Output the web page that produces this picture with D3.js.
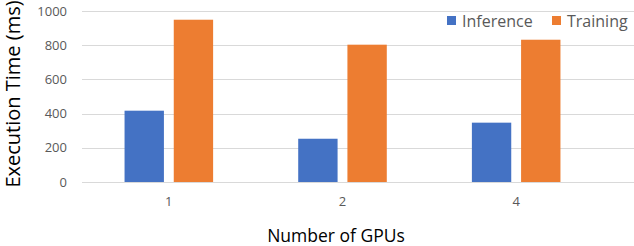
<!DOCTYPE html>
<html>
<head>
<meta charset="utf-8">
<script src="https://cdn.jsdelivr.net/npm/d3@7"></script>
<style>
  body { margin: 0; background: #fff; }
  text { font-family: "Open Sans", sans-serif; fill: #595959; }
</style>
</head>
<body>
<div class="chart"></div>
<script>
// Chart data
var gpus = ["1", "2", "4"];
var seriesNames = ["Inference", "Training"];
var inference = [417, 253, 347];
var training = [949, 803, 832];
var yTicks = [0, 200, 400, 600, 800, 1000];
var colors = ["#4472C4", "#ED7D31"];

var svgWidth = 634;
var svgHeight = 246;
var margin = { top: 11, right: 31, bottom: 64, left: 82 };
var width = svgWidth - margin.left - margin.right;
var height = svgHeight - margin.top - margin.bottom;

var svg = d3.select(".chart")
    .append("svg")
    .attr("width", svgWidth)
    .attr("height", svgHeight);

var chart = svg.append("g")
    .attr("transform", "translate(" + margin.left + "," + margin.top + ")");

var x0 = d3.scaleBand().domain(gpus).range([0, width])
    .paddingInner(0.49).paddingOuter(0.245);
var x1 = d3.scaleBand().domain(seriesNames).range([0, x0.bandwidth()]).paddingInner(0.2);
var y = d3.scaleLinear().domain([0, 1000]).range([height, 0]);

// Gridlines run to the right edge
chart.append("g")
    .selectAll("line")
    .data(yTicks)
    .enter()
    .append("line")
    .attr("x1", 0)
    .attr("x2", svgWidth - margin.left)
    .attr("y1", function (d) { return Math.round(y(d)) + 0.5; })
    .attr("y2", function (d) { return Math.round(y(d)) + 0.5; })
    .attr("stroke", "#D9D9D9")
    .attr("stroke-width", 1);

// Y tick labels
chart.append("g")
    .selectAll("text")
    .data(yTicks)
    .enter()
    .append("text")
    .attr("x", -15)
    .attr("y", function (d) { return y(d); })
    .attr("dy", "0.35em")
    .attr("text-anchor", "end")
    .style("font-size", "13px")
    .text(function (d) { return d; });

// Bars
var rows = gpus.map(function (g, i) {
    return { gpu: g, values: [inference[i], training[i]] };
});

var groups = chart.selectAll(".group")
    .data(rows)
    .enter()
    .append("g")
    .attr("class", "group")
    .attr("transform", function (d) { return "translate(" + x0(d.gpu) + ",0)"; });

groups.selectAll("rect")
    .data(function (d) {
        return d.values.map(function (v, i) { return { name: seriesNames[i], value: v, idx: i }; });
    })
    .enter()
    .append("rect")
    .attr("x", function (d) { return x1(d.name); })
    .attr("y", function (d) { return y(d.value); })
    .attr("width", x1.bandwidth())
    .attr("height", function (d) { return height - y(d.value); })
    .attr("fill", function (d) { return colors[d.idx]; });

// X tick labels
chart.append("g")
    .selectAll("text")
    .data(gpus)
    .enter()
    .append("text")
    .attr("x", function (d) { return x0(d) + x0.bandwidth() / 2; })
    .attr("y", height + 24)
    .attr("text-anchor", "middle")
    .style("font-size", "13px")
    .text(function (d) { return d; });

// Axis titles
svg.append("text")
    .attr("transform", "translate(19.5," + 94 + ") rotate(-90)")
    .attr("text-anchor", "middle")
    .style("font-size", "20px")
    .style("fill", "#000")
    .text("Execution Time (ms)");

svg.append("text")
    .attr("x", 336)
    .attr("y", 242)
    .attr("text-anchor", "middle")
    .style("font-size", "17.5px")
    .style("fill", "#000")
    .text("Number of GPUs");

// Legend
var legendItems = [
    { name: seriesNames[0], color: colors[0], x: 447 },
    { name: seriesNames[1], color: colors[1], x: 552 }
];
var legend = svg.append("g");
legend.selectAll("rect")
    .data(legendItems)
    .enter()
    .append("rect")
    .attr("x", function (d) { return d.x; })
    .attr("y", 16)
    .attr("width", 9)
    .attr("height", 9)
    .attr("fill", function (d) { return d.color; });
legend.selectAll("text")
    .data(legendItems)
    .enter()
    .append("text")
    .attr("x", function (d) { return d.x + 15; })
    .attr("y", 27)
    .style("font-size", "16px")
    .text(function (d) { return d.name; });
</script>
</body>
</html>
